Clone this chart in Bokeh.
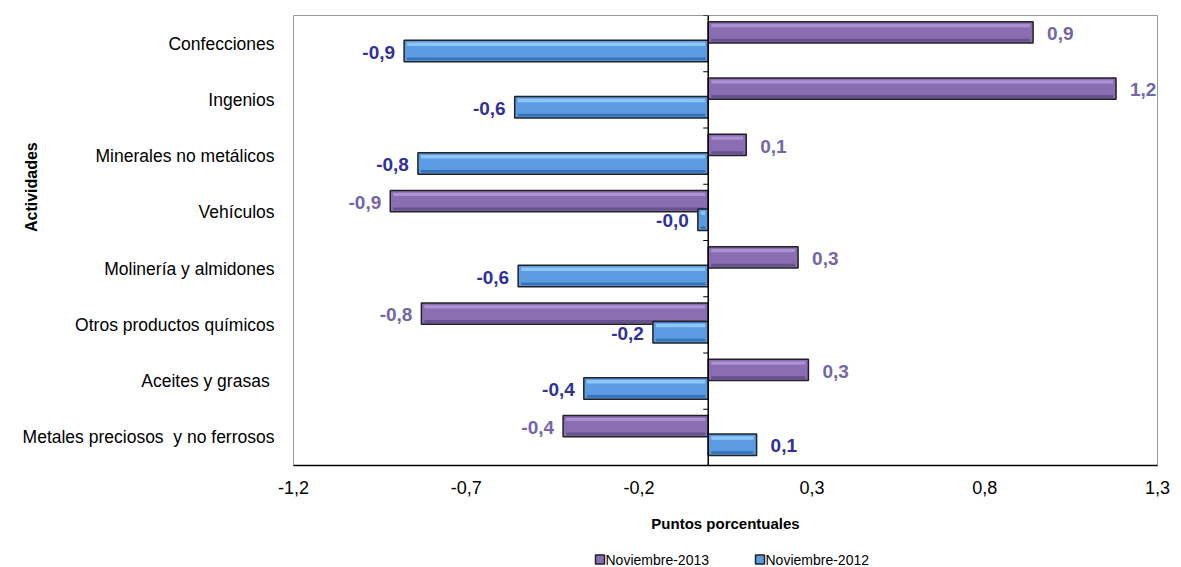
from bokeh.plotting import figure
from bokeh.models import (ColumnDataSource, Range1d, FactorRange, FixedTicker, CustomJSTickFormatter,
                          Span)
from bokeh.layouts import column
from bokeh.transform import dodge
from bokeh.core.properties import value
from bokeh.embed import file_html
from bokeh.resources import INLINE

categories = ["Confecciones", "Ingenios", "Minerales no metálicos", "Vehículos",
              "Molinería y almidones", "Otros productos químicos", "Aceites y grasas\u00a0",
              "Metales preciosos\u00a0 y no ferrosos"]
nov_2013 = [0.94, 1.18, 0.11, -0.92, 0.26, -0.83, 0.29, -0.42]
nov_2012 = [-0.88, -0.56, -0.84, -0.03, -0.55, -0.16, -0.36, 0.14]
x_ticks = [-1.2, -0.7, -0.2, 0.3, 0.8, 1.3]
series_names = ["Noviembre-2013", "Noviembre-2012"]

PX = 864 / 2.5  # px per unit
PUR, PUR_HI, PUR_LO = "#8a6db3", "#ab93d3", "#5d4b82"
BLU, BLU_HI, BLU_LO = "#5b9be2", "#8fc6f8", "#2f68ad"

factors = list(reversed(categories))
p = figure(width=1180, height=536, output_backend="svg", toolbar_location=None,
           x_range=Range1d(-1.2, 1.3), y_range=FactorRange(factors=factors))
p.min_border_left = 293
p.min_border_right = 23
p.min_border_top = 15
p.min_border_bottom = 71
p.grid.visible = False
p.outline_line_color = "#999999"
p.outline_line_width = 1
p.background_fill_color = "white"
p.border_fill_color = "white"

def fmt(v):
    return f"{v:.1f}".replace(".", ",")

def make_source(vals):
    inset = 3 / PX
    return ColumnDataSource(dict(
        cat=categories,
        left=[min(0, v) for v in vals],
        right=[max(0, v) for v in vals],
        ileft=[min(0, v) + inset for v in vals],
        iright=[max(0, v) - inset for v in vals],
        x=vals,
        lab=[fmt(v) for v in vals],
        align=["left" if v >= 0 else "right" for v in vals],
        xoff=[14 if v >= 0 else -9 for v in vals],
    ))

H = 0.38
styles = [(nov_2013, 0.2, PUR, PUR_HI, PUR_LO, "#7266a8"),
          (nov_2012, -0.13, BLU, BLU_HI, BLU_LO, "#30309a")]
for vals, off, c, hi, lo, lc in styles:
    src = make_source(vals)
    p.hbar(y=dodge("cat", off, range=p.y_range), left="left", right="right", height=H,
           source=src, fill_color=c, line_color="#222222", line_width=1.5)
    p.hbar(y=dodge("cat", off + H / 2 - 0.07, range=p.y_range), left="ileft", right="iright",
           height=0.06, source=src, fill_color=hi, line_color=None)
    p.hbar(y=dodge("cat", off - H / 2 + 0.05, range=p.y_range), left="ileft", right="iright",
           height=0.05, source=src, fill_color=lo, line_color=None, fill_alpha=0.8)
    p.text(x="x", y=dodge("cat", off - 0.02, range=p.y_range), text="lab", source=src,
           text_align="align", x_offset="xoff", text_baseline="middle",
           text_font=value("Liberation Sans"), text_font_style="bold",
           text_font_size="19px", text_color=lc)

# zero line with ticks at category boundaries
p.add_layout(Span(location=0, dimension="height", line_color="black", line_width=1.5))
tick_src = ColumnDataSource(dict(cat=categories, x0=[-5 / PX] * 8, x1=[0] * 8))
p.segment(x0="x0", x1="x1", y0=dodge("cat", 0.5, range=p.y_range),
          y1=dodge("cat", 0.5, range=p.y_range), source=tick_src, line_color="black", line_width=1)
p.segment(x0="x0", x1="x1", y0=dodge("cat", -0.5, range=p.y_range),
          y1=dodge("cat", -0.5, range=p.y_range), source=ColumnDataSource(dict(
              cat=categories[-1:], x0=[-5 / PX], x1=[0])), line_color="black", line_width=1)

# x axis
xa = p.xaxis[0]
xa.ticker = FixedTicker(ticks=x_ticks)
xa.formatter = CustomJSTickFormatter(code="return tick.toFixed(1).replace('.', ',');")
xa.major_tick_line_color = None
xa.minor_tick_line_color = None
xa.major_tick_out = 0
xa.major_tick_in = 0
xa.axis_line_color = "black"
xa.axis_line_width = 1.5
xa.major_label_standoff = 15
xa.major_label_text_font = "Liberation Sans"
xa.major_label_text_font_size = "18px"
xa.major_label_text_color = "black"
xa.axis_label = "Puntos porcentuales"
xa.axis_label_text_font = "Liberation Sans"
xa.axis_label_text_font_style = "bold"
xa.axis_label_text_font_size = "15px"
xa.axis_label_text_color = "black"
xa.axis_label_standoff = 18

# y axis
ya = p.yaxis[0]
ya.axis_line_color = None
ya.major_tick_line_color = None
ya.minor_tick_line_color = None
ya.major_tick_out = 0
ya.major_label_standoff = 19
ya.major_label_text_font = "Liberation Sans"
ya.major_label_text_font_size = "17.5px"
ya.major_label_text_color = "black"
ya.axis_label = "\u00a0" * 24 + "Actividades"
ya.axis_label_text_font = "Liberation Sans"
ya.axis_label_text_font_style = "bold"
ya.axis_label_text_font_size = "16px"
ya.axis_label_text_color = "black"
ya.axis_label_standoff = -20

# legend strip below (drawn in its own small figure; its frame aligns with the main frame)
p2 = figure(width=1180, height=30, output_backend="svg", toolbar_location=None,
            x_range=Range1d(293, 1157), y_range=Range1d(0, 30),
            x_axis_type=None, y_axis_type=None, min_border=0)
p2.outline_line_color = None
p2.grid.visible = False
leg_x = [599.5, 759.5]
leg_src = ColumnDataSource(dict(x=leg_x, tx=[x + 5.5 for x in leg_x], y=[7, 7],
                                name=series_names, color=[PUR, BLU]))
p2.rect(x="x", y="y", width=9, height=9, source=leg_src, fill_color="color",
        line_color="#222222", line_width=1.5)
p2.text(x="tx", y="y", text="name", source=leg_src, text_baseline="middle",
        text_align="left", text_font=value("Liberation Sans"), text_font_size="14px",
        text_color="black")

open("out.html", "w").write(file_html(column(p, p2, spacing=0), INLINE))
